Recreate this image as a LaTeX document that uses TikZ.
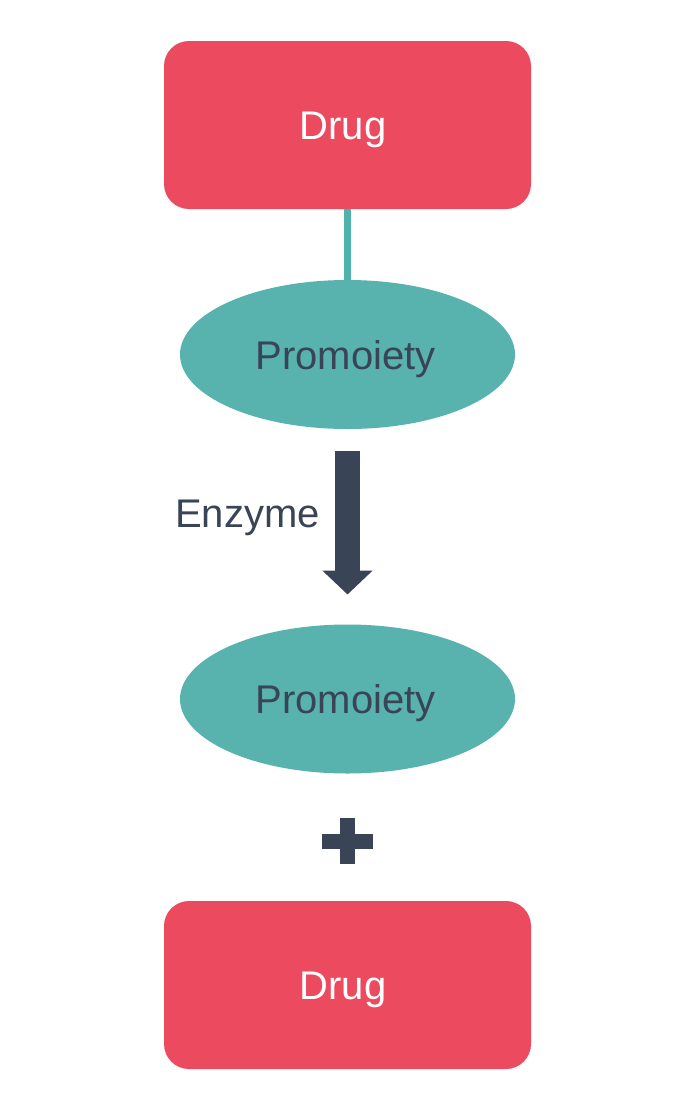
\documentclass[tikz,border=0pt]{standalone}
\usepackage{fontspec}
\setmainfont{Liberation Sans}
\usepackage{tikz}
\usetikzlibrary{shapes, arrows.meta}
\definecolor{drugred}{HTML}{EC4A5F}
\definecolor{moietyteal}{HTML}{58B2AD}
\definecolor{linkteal}{HTML}{4FB3AB}
\definecolor{slate}{HTML}{394456}
\tikzstyle{drug} = [rectangle, rounded corners=25pt, minimum width=367pt, minimum height=168pt, inner sep=0pt, outer sep=0pt, text centered, fill=drugred, text=white, text height=38pt, text depth=8.5pt, font=\fontsize{40}{48}\selectfont]
\tikzstyle{promoiety} = [ellipse, minimum width=335pt, minimum height=149pt, inner sep=0pt, outer sep=0pt, text centered, fill=moietyteal, text=slate, text height=38pt, text depth=8.5pt, font=\fontsize{40}{48}\selectfont]
\tikzstyle{detail} = [inner sep=0pt, text=slate, text height=38pt, text depth=8.5pt, font=\fontsize{40}{48}\selectfont]
\tikzstyle{plusbar} = [rectangle, inner sep=0pt, outer sep=0pt, fill=slate]

\begin{document}
\begin{tikzpicture}[node distance=229.5pt]
\useasboundingbox (0pt,0pt) rectangle (676pt,-1106pt);
\node (drugTop) [drug] at (347.5pt,-125pt) {Drug\kern9pt};
\node (promoietyTop) [promoiety, below of=drugTop] {Promoiety\kern4pt};
\node (promoietyBottom) [promoiety, below of=promoietyTop, yshift=-115pt] {Promoiety\kern4pt};
\node (enzyme) [detail, below of=promoietyTop, xshift=-100pt, yshift=71pt] {Enzyme};
\node (plusH) [plusbar, below of=promoietyBottom, yshift=87.2pt, minimum width=51pt, minimum height=15pt] {};
\node (plusV) [plusbar, below of=promoietyBottom, yshift=87.2pt, minimum width=15pt, minimum height=46pt] {};
\node (drugBottom) [drug, below of=plusH, yshift=85.8pt] {Drug\kern9pt};

\draw[linkteal, line width=7pt] (drugTop.south) -- (promoietyTop.north);
\draw[slate, line width=25pt, shorten <=22pt, shorten >=30pt, -{Triangle[length=24pt, width=49pt]}] (promoietyTop.south) -- (promoietyBottom.north);

\end{tikzpicture}
\end{document}
